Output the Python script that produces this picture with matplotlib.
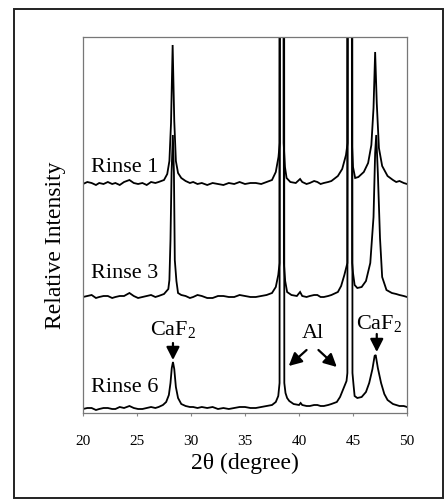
import matplotlib
matplotlib.use("Agg")
import matplotlib.pyplot as plt
from matplotlib.patches import Rectangle

plt.rcParams['font.family'] = ['Liberation Serif', 'DejaVu Serif']
plt.rcParams['mathtext.fontset'] = 'custom'
plt.rcParams['mathtext.rm'] = 'Liberation Serif'
plt.rcParams['mathtext.it'] = 'Liberation Serif:italic'

# ---- data (2theta in degrees, relative intensity in arbitrary units, already stacked) ----
tt_rinse1 = [20.0, 20.4, 20.8, 21.2, 21.5, 21.9, 22.3, 22.7, 23.0, 23.4, 23.8, 24.3, 24.7, 25.1, 25.5,
             25.9, 26.3, 26.7, 27.0, 27.5, 27.8, 28.0, 28.15,
             28.3, 28.45, 28.6, 28.8, 29.1, 29.5, 29.9, 30.2, 30.6, 31.0, 31.5, 32.0, 32.5, 33.0, 33.5,
             34.0, 34.5, 35.0, 35.5, 36.0, 36.5, 37.0, 37.5,
             37.85, 38.1, 38.22, 38.4, 38.58, 38.7, 38.85, 39.2, 39.7, 40.1, 40.3, 40.7, 41.0, 41.4,
             41.7, 42.0, 42.3, 42.7, 43.0, 43.6, 44.0, 44.35, 44.5, 44.7, 44.9, 45.0, 45.2, 45.5,
             46.0, 46.4, 46.7, 46.9, 47.05, 47.2, 47.4, 47.7, 48.2, 48.7, 49.0, 49.3, 49.7, 50.0]
in_rinse1 = [229, 231, 230, 228, 230, 229, 231, 229, 230, 228, 231, 233, 230, 229, 230,
             228, 231, 230, 231, 233, 239, 252, 290,
             368, 292, 252, 240, 235, 232, 230, 231, 229, 230, 228, 230, 229, 228, 230,
             229, 231, 229, 230, 230, 229, 231, 233,
             241, 256, 270, 6000, 270, 246, 235, 231, 230, 234, 231, 229, 230, 232,
             231, 229, 230, 231, 232, 237, 244, 258, 270, 6000, 270, 246, 235, 236,
             241, 250, 268, 305, 361, 310, 265, 247, 237, 233, 231, 232, 230, 229]

tt_rinse3 = [20.0, 20.4, 20.8, 21.2, 21.5, 21.9, 22.3, 22.7, 23.0, 23.4, 23.8, 24.3, 24.7, 25.1, 25.5,
             25.9, 26.3, 26.7, 27.0, 27.5, 27.9, 28.0, 28.1,
             28.2, 28.32, 28.42, 28.5, 28.65, 28.8, 29.1, 29.5, 29.9, 30.2, 30.6, 31.0, 31.5, 32.0,
             32.5, 33.0, 33.5, 34.0, 34.5, 35.0, 35.5,
             36.0, 36.5, 37.0, 37.5, 37.85, 38.08, 38.2, 38.4, 38.6, 38.72, 38.9, 39.3, 39.8, 40.1,
             40.3, 40.7, 41.0, 41.4, 41.7, 42.0, 42.3, 42.7, 43.0, 43.6, 43.9, 44.2, 44.48, 44.7,
             44.92, 45.0, 45.15, 45.4, 45.8,
             46.2, 46.6, 46.9, 47.05, 47.15, 47.3, 47.5, 47.7, 48.1, 48.6, 49.0, 49.3, 49.7, 50.0]
in_rinse3 = [116, 117, 118, 115, 116, 117, 117, 115, 116, 117, 117, 120, 117, 115, 116,
             117, 118, 116, 117, 119, 124, 133, 173,
             240, 278, 240, 153, 132, 120, 118, 117, 115, 116, 118, 117, 115, 115,
             117, 117, 116, 116, 118, 117, 116,
             116, 117, 118, 120, 126, 138, 150, 6000, 150, 132, 121, 118, 117, 121,
             117, 116, 117, 118, 118, 116, 116, 117, 118, 121, 127, 138, 150, 6000,
             150, 140, 128, 125, 126,
             132, 150, 196, 260, 278, 240, 175, 136, 123, 120, 119, 118, 117, 116]

tt_rinse6 = [20.0, 20.4, 20.8, 21.2, 21.5, 21.9, 22.3, 22.7, 23.0, 23.4, 23.8, 24.3, 24.7, 25.1, 25.5,
             25.9, 26.3, 26.7, 27.0, 27.4, 27.7, 27.95, 28.1,
             28.22, 28.33, 28.45, 28.6, 28.8, 29.1, 29.5, 29.9, 30.2, 30.6, 31.0, 31.5, 32.0, 32.5,
             33.0, 33.5, 34.0, 34.5, 35.0, 35.5, 36.0,
             36.5, 37.0, 37.5, 37.85, 38.08, 38.2, 38.42, 38.64, 38.75, 38.9, 39.1, 39.5, 40.0, 40.15,
             40.3, 40.7, 41.0, 41.4, 41.7, 42.0, 42.3, 42.7, 43.0, 43.5, 43.8, 44.1, 44.4, 44.48,
             44.7, 44.95, 45.05, 45.15, 45.4, 45.8,
             46.2, 46.5, 46.8, 47.0, 47.1, 47.3, 47.6, 47.9, 48.2, 48.7, 49.0, 49.3, 49.7, 50.0]
in_rinse6 = [4, 5, 5, 3, 4, 5, 5, 4, 4, 6, 5, 7, 5, 4, 4,
             5, 6, 5, 6, 8, 11, 18, 30,
             45, 51, 44, 26, 15, 9, 7, 6, 6, 5, 6, 5, 6, 4,
             5, 4, 5, 6, 6, 5, 5,
             6, 7, 8, 11, 17, 30, 6000, 30, 20, 15, 12, 9, 8, 10,
             8, 7, 7, 8, 8, 7, 7, 8, 9, 11, 16, 24, 32, 40,
             6000, 40, 28, 17, 15, 16,
             21, 30, 44, 57, 58, 45, 30, 19, 13, 9, 8, 7, 7, 6]

curve_labels = ['Rinse 1', 'Rinse 3', 'Rinse 6']
label_y = [246, 140, 26]
x_ticks = [20, 25, 30, 35, 40, 45, 50]

# ---- figure ----
W, H = 448, 499
fig = plt.figure(figsize=(W / 100, H / 100), dpi=100)
fig.patches.append(Rectangle((14 / W, 1 - 498 / H), (443 - 14) / W, (498 - 9) / H,
                             transform=fig.transFigure, fill=False, ec='#222222', lw=1.4))

ax = fig.add_axes([83 / W, 1 - 413 / H, (407 - 83) / W, (413 - 37) / H])

for tt, inten in [(tt_rinse1, in_rinse1), (tt_rinse3, in_rinse3), (tt_rinse6, in_rinse6)]:
    ax.plot(tt, inten, color='black', lw=1.3, solid_joinstyle='miter')

ax.set_xlim(20, 50)
ax.set_ylim(0, 376)
ax.set_xticks(x_ticks)
ax.set_xticklabels([str(t) for t in x_ticks], fontsize=11)
ax.set_yticks([])
ax.tick_params(axis='x', direction='out', length=2.5, width=0.8, color='#888888', pad=13)
for s in ax.spines.values():
    s.set_color('#777777')
    s.set_linewidth(0.9)

ax.set_xlabel('2θ (degree)', fontsize=17, labelpad=4)
ax.set_ylabel('Relative Intensity', fontsize=17)
ax.yaxis.set_label_coords(-0.053, 0.447)

for lab, yy in zip(curve_labels, label_y):
    ax.text(20.75, yy, lab, fontsize=16, ha='left', va='center')

# CaF2 labels and arrows
ax.text(28.3, 84, r'CaF$_2$', fontsize=16, ha='center', va='center')
ax.text(47.45, 89, r'CaF$_2$', fontsize=16, ha='center', va='center')
ax.text(41.25, 80, 'Al', fontsize=16, ha='center', va='center')

arw = dict(arrowstyle='-|>,head_length=0.55,head_width=0.28', color='black', lw=1.6,
           shrinkA=0, shrinkB=0, mutation_scale=14)
ax.annotate('', xy=(28.33, 53), xytext=(28.33, 70), arrowprops=arw)
ax.annotate('', xy=(47.2, 61), xytext=(47.2, 79), arrowprops=arw)
ax.annotate('', xy=(39.05, 47), xytext=(40.7, 63), arrowprops=arw)
ax.annotate('', xy=(43.5, 46), xytext=(41.8, 63), arrowprops=arw)

fig.savefig('out.png', dpi=100)
